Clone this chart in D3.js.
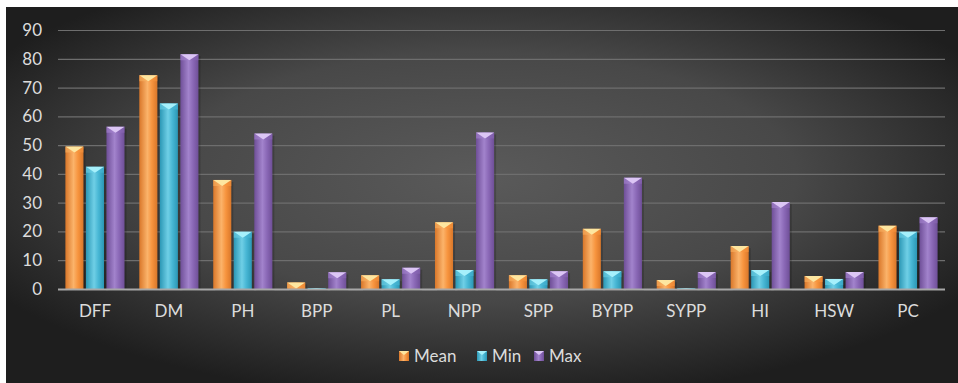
<!DOCTYPE html>
<html><head><meta charset="utf-8">
<script src="https://cdn.jsdelivr.net/npm/d3@7"></script>
<style>
html,body{margin:0;padding:0;background:#fff;}
svg{display:block;}
text{font-family:Lato,"Open Sans",sans-serif;}
</style></head>
<body>
<script>
const categories = ["DFF","DM","PH","BPP","PL","NPP","SPP","BYPP","SYPP","HI","HSW","PC"];
const seriesNames = ["Mean","Min","Max"];
const meanValues = [49.5, 74.3, 37.9, 2.3, 4.8, 23.2, 4.8, 20.9, 3.1, 14.9, 4.5, 22.0];
const minValues  = [42.5, 64.5, 19.9, 0.3, 3.4, 6.6, 3.4, 6.2, 0.3, 6.6, 3.5, 19.9];
const maxValues  = [56.4, 81.6, 54.0, 5.8, 7.4, 54.4, 6.2, 38.7, 5.9, 30.2, 5.9, 24.9];
const yTicks = [0,10,20,30,40,50,60,70,80,90];

const W = 958, H = 383;
const colors = {
  Mean: {dark:"#d9772a", mid:"#f7943e", light:"#fbb36a", cap:"#fde6a0", side:"#f9b060"},
  Min:  {dark:"#2b97b5", mid:"#47b6d4", light:"#6fcfe6", cap:"#a6f0fb", side:"#6cd0e6"},
  Max:  {dark:"#6f4f98", mid:"#8a68b6", light:"#a283cc", cap:"#dcc6f5", side:"#a584cf"}
};
const valuesBy = {Mean: meanValues, Min: minValues, Max: maxValues};
const textColor = "#dcdcdc";
const fontSize = "17px";

const svg = d3.select("body").append("svg").attr("width", W).attr("height", H);
const defs = svg.append("defs");

const bg = defs.append("radialGradient").attr("id","bg").attr("cx","0.5").attr("cy","0.45").attr("r","0.6");
bg.append("stop").attr("offset","0").attr("stop-color","#5a5a5a");
bg.append("stop").attr("offset","0.55").attr("stop-color","#484848");
bg.append("stop").attr("offset","1").attr("stop-color","#1e1e1e");

seriesNames.forEach(s => {
  const g = defs.append("linearGradient").attr("id","g"+s).attr("x1","0").attr("x2","1").attr("y1","0").attr("y2","0");
  g.append("stop").attr("offset","0").attr("stop-color", colors[s].dark);
  g.append("stop").attr("offset","0.45").attr("stop-color", colors[s].light);
  g.append("stop").attr("offset","0.7").attr("stop-color", colors[s].mid);
  g.append("stop").attr("offset","1").attr("stop-color", colors[s].dark);
});

svg.append("rect").attr("x",6).attr("y",7).attr("width",W-6).attr("height",H-7).attr("fill","url(#bg)");

const x0 = d3.scaleBand().domain(categories).range([58,945]).paddingInner(0.2).paddingOuter(0.1);
const x1 = d3.scaleBand().domain(seriesNames).range([0, x0.bandwidth()]).paddingInner(0.12);
const y = d3.scaleLinear().domain([0,90]).range([289,30]);

// grid
svg.append("g").selectAll("line").data(yTicks.filter(t=>t>0)).join("line")
  .attr("x1",58).attr("x2",945).attr("y1",d=>y(d)+0.5).attr("y2",d=>y(d)+0.5)
  .attr("stroke","#6e6e6e").attr("stroke-width",1.2);

// y axis labels
const yAxis = d3.axisLeft(y).tickValues(yTicks).tickSize(0).tickPadding(0);
const ya = svg.append("g").attr("transform","translate(42,0)").call(yAxis);
ya.select(".domain").remove();
ya.selectAll("text").attr("fill",textColor).style("font-size",fontSize).style("font-family","Lato, 'Open Sans', sans-serif");

// bars
const groups = svg.append("g").selectAll("g").data(categories).join("g")
  .attr("transform", d => `translate(${x0(d)},0)`);
groups.each(function(cat, i){
  const g = d3.select(this);
  seriesNames.forEach(s => {
    const v = valuesBy[s][i];
    const bx = x1(s), bw = x1.bandwidth();
    const top = y(v), bot = y(0);
    const h = bot - top;
    g.append("rect").attr("x",bx+2).attr("y",top+2).attr("width",bw).attr("height",h)
      .attr("fill","#000").attr("opacity",0.18);
    g.append("rect").attr("x",bx).attr("y",top).attr("width",bw).attr("height",h)
      .attr("fill","url(#g"+s+")");
    const ch = Math.min(6, h);
    g.append("path").attr("d",`M${bx},${top}L${bx+bw/2},${top+ch}L${bx},${top+ch}Z`).attr("fill",colors[s].side).attr("opacity",0.6);
    g.append("path").attr("d",`M${bx+bw},${top}L${bx+bw/2},${top+ch}L${bx+bw},${top+ch}Z`).attr("fill",colors[s].mid).attr("opacity",0.6);
    g.append("path").attr("d",`M${bx},${top}L${bx+bw},${top}L${bx+bw/2},${top+ch}Z`).attr("fill",colors[s].cap);
  });
});

// zero axis line
svg.append("line").attr("x1",58).attr("x2",945).attr("y1",y(0)+0.5).attr("y2",y(0)+0.5)
  .attr("stroke","#a8a8a8").attr("stroke-width",1.8);

// x axis labels
const xAxis = d3.axisBottom(x0).tickSize(0).tickPadding(0);
const xa = svg.append("g").attr("transform",`translate(0,${y(0)+16})`).call(xAxis);
xa.select(".domain").remove();
xa.selectAll("text").attr("fill",textColor).style("font-size",fontSize).style("font-family","Lato, 'Open Sans', sans-serif");

// legend
const legendX = [399, 477, 534];
const lg = svg.append("g").selectAll("g").data(seriesNames).join("g")
  .attr("transform",(d,i)=>`translate(${legendX[i]},351)`);
lg.append("rect").attr("width",10).attr("height",10).attr("fill",d=>"url(#g"+d+")");
lg.append("path").attr("d","M0,0L10,0L5,4Z").attr("fill",d=>colors[d].cap);
lg.append("text").attr("x",15).attr("y",11).attr("fill",textColor).style("font-size",fontSize).text(d=>d);
</script>
</body></html>
